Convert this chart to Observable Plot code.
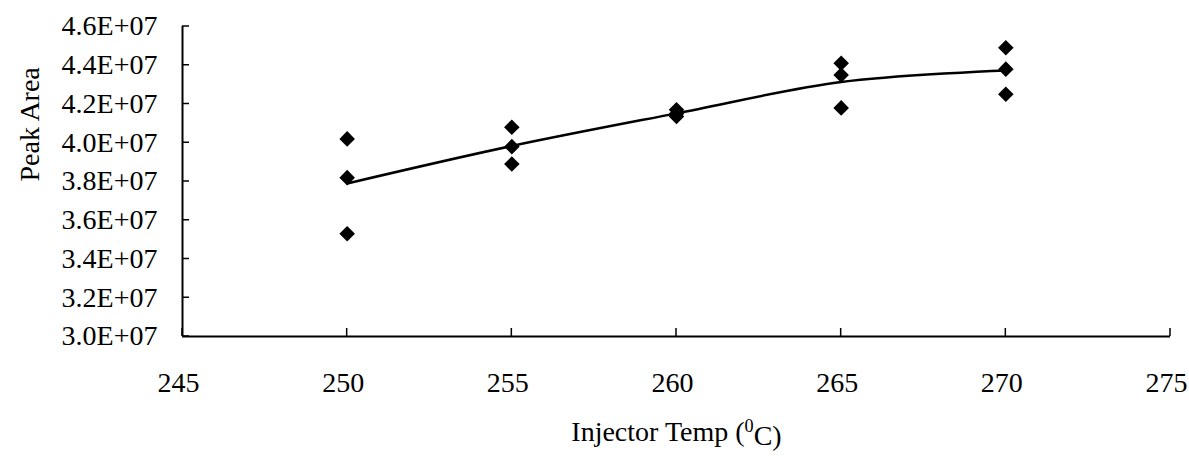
<!DOCTYPE html>
<html>
<head>
<meta charset="utf-8">
<script src="https://cdn.jsdelivr.net/npm/d3@7"></script>
<script src="https://cdn.jsdelivr.net/npm/@observablehq/plot@0.6"></script>
<style>
  html, body { margin: 0; padding: 0; background: #fff; }
  svg text { font-family: "Liberation Serif", "Times New Roman", serif !important; }
</style>
</head>
<body>
<div id="chart"></div>
<script>
const temps = [250, 250, 250, 255, 255, 255, 260, 260, 260, 265, 265, 265, 270, 270, 270];
const peakAreas = [4.02e7, 3.82e7, 3.53e7, 4.08e7, 3.98e7, 3.89e7, 4.17e7, 4.15e7, 4.135e7, 4.41e7, 4.35e7, 4.18e7, 4.49e7, 4.38e7, 4.25e7];
const xTicks = [245, 250, 255, 260, 265, 270, 275];
const yTicks = [3.0e7, 3.2e7, 3.4e7, 3.6e7, 3.8e7, 4.0e7, 4.2e7, 4.4e7, 4.6e7];
const xTitle = "Injector Temp (0C)";
const yTitle = "Peak Area";

const data = temps.map((t, i) => ({temp: t, area: peakAreas[i]}));
const fmtY = d => (d / 1e7).toFixed(1) + "E+07";

const W = 1189, H = 460, ML = 182, MR = 19, MT = 26, MB = 124;

const chart = Plot.plot({
  width: W,
  height: H,
  marginLeft: ML,
  marginRight: MR,
  marginTop: MT,
  marginBottom: MB,
  style: {fontFamily: "Liberation Serif, serif", fontSize: "28px", color: "#000", background: "#fff"},
  x: {domain: [245, 275], axis: null},
  y: {domain: [3.0e7, 4.6e7], axis: null},
  marks: [
    Plot.text(xTicks, {x: d => d, text: d => String(d), frameAnchor: "bottom", lineAnchor: "top", dy: 36, dx: -4, fontSize: 28}),
    Plot.text(yTicks, {y: d => d, text: fmtY, frameAnchor: "left", textAnchor: "end", dx: -25, fontSize: 28}),
    Plot.ruleX([245], {strokeWidth: 2}),
    Plot.ruleY([3.0e7], {strokeWidth: 2}),
    Plot.line(data, Plot.groupX({y: "mean"}, {x: "temp", y: "area", curve: "catmull-rom", stroke: "#000", strokeWidth: 2.5})),
    Plot.dot(data, {x: "temp", y: "area", symbol: "diamond2", r: 7, fill: "#000", stroke: "none"}),
    Plot.text([yTitle], {frameAnchor: "left", dx: -152, rotate: -90, fontSize: 28}),
    Plot.text([xTitle], {frameAnchor: "bottom", dy: 104, fontSize: 28})
  ]
});

// inward tick marks, positioned with Plot's own scales
const sx = chart.scale("x"), sy = chart.scale("y");
const svg = d3.select(chart);
const tickG = svg.append("g").attr("stroke", "#000").attr("stroke-width", 1.5);
const x0 = sx.apply(245), y0 = sy.apply(3.0e7);
tickG.selectAll("line.xt").data(xTicks).join("line")
  .attr("x1", d => sx.apply(d)).attr("x2", d => sx.apply(d))
  .attr("y1", y0).attr("y2", y0 - 8);
tickG.selectAll("line.yt").data(yTicks).join("line")
  .attr("x1", x0).attr("x2", x0 + 7)
  .attr("y1", d => sy.apply(d)).attr("y2", d => sy.apply(d));

// superscript the 0 in the x title
svg.selectAll("text").each(function() {
  if (this.textContent === xTitle) {
    const t = d3.select(this);
    t.text(null);
    t.append("tspan").text("Injector Temp (");
    t.append("tspan").attr("dy", "-0.45em").attr("font-size", "0.65em").text("0");
    t.append("tspan").attr("dy", "0.45em").text("C)");
  }
});

document.getElementById("chart").appendChild(chart);
</script>
</body>
</html>
